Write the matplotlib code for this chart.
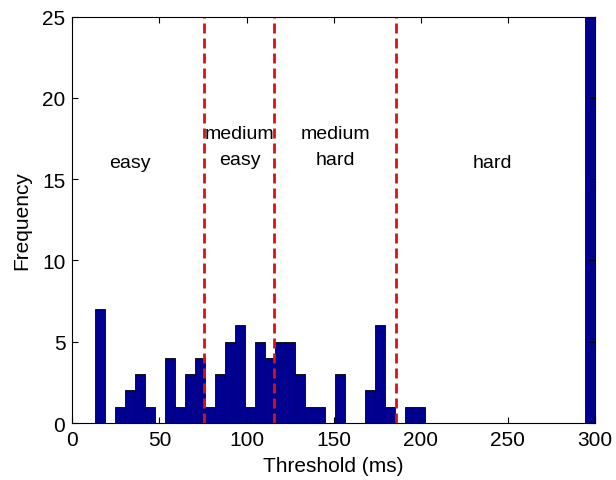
import matplotlib
matplotlib.use("Agg")
import matplotlib.pyplot as plt
import numpy as np

plt.rcParams['font.family'] = ['Liberation Sans', 'DejaVu Sans']

# histogram: 50 bins between min and max threshold
tmin, tmax, nbins = 13.0, 300.0, 50
counts = [7, 0, 1, 2, 3, 1, 0, 4, 1, 3,
          4, 1, 3, 5, 6, 1, 5, 4, 5, 5,
          3, 1, 1, 0, 3, 0, 0, 2, 6, 1,
          0, 1, 1, 0, 0, 0, 0, 0, 0, 0,
          0, 0, 0, 0, 0, 0, 0, 0, 0, 30]

cutoffs = [75.5, 116, 186]
labels = ["easy", "medium\neasy", "medium\nhard", "hard"]
label_x = [33, 96, 151, 241]
label_y = [16, 17, 17, 16]

edges = np.linspace(tmin, tmax, nbins + 1)
centers = (edges[:-1] + edges[1:]) / 2
binw = edges[1] - edges[0]

fig = plt.figure(figsize=(6.16, 4.81), dpi=100)
ax = fig.add_axes([0.1174, 0.1185, 0.8486, 0.845])

ax.bar(centers, counts, width=binw, color='#000090', edgecolor='black', linewidth=0.6)

for c in cutoffs:
    ax.axvline(c, color='#dd1111', linestyle=(0, (3.6, 1.8)), linewidth=2)

for x, y, t in zip(label_x, label_y, labels):
    ax.text(x, y, t, ha='center', va='center', fontsize=14, linespacing=1.75)

ax.set_xlim(0, 300)
ax.set_ylim(0, 25)
ax.set_xticks([0, 50, 100, 150, 200, 250, 300])
ax.set_yticks([0, 5, 10, 15, 20, 25])
ax.tick_params(direction='in', top=True, right=True, labelsize=15, length=4, pad=5)
ax.set_xlabel('Threshold (ms)', fontsize=15, labelpad=5)
ax.set_ylabel('Frequency', fontsize=15, labelpad=8)

fig.savefig('out.png', dpi=100)
